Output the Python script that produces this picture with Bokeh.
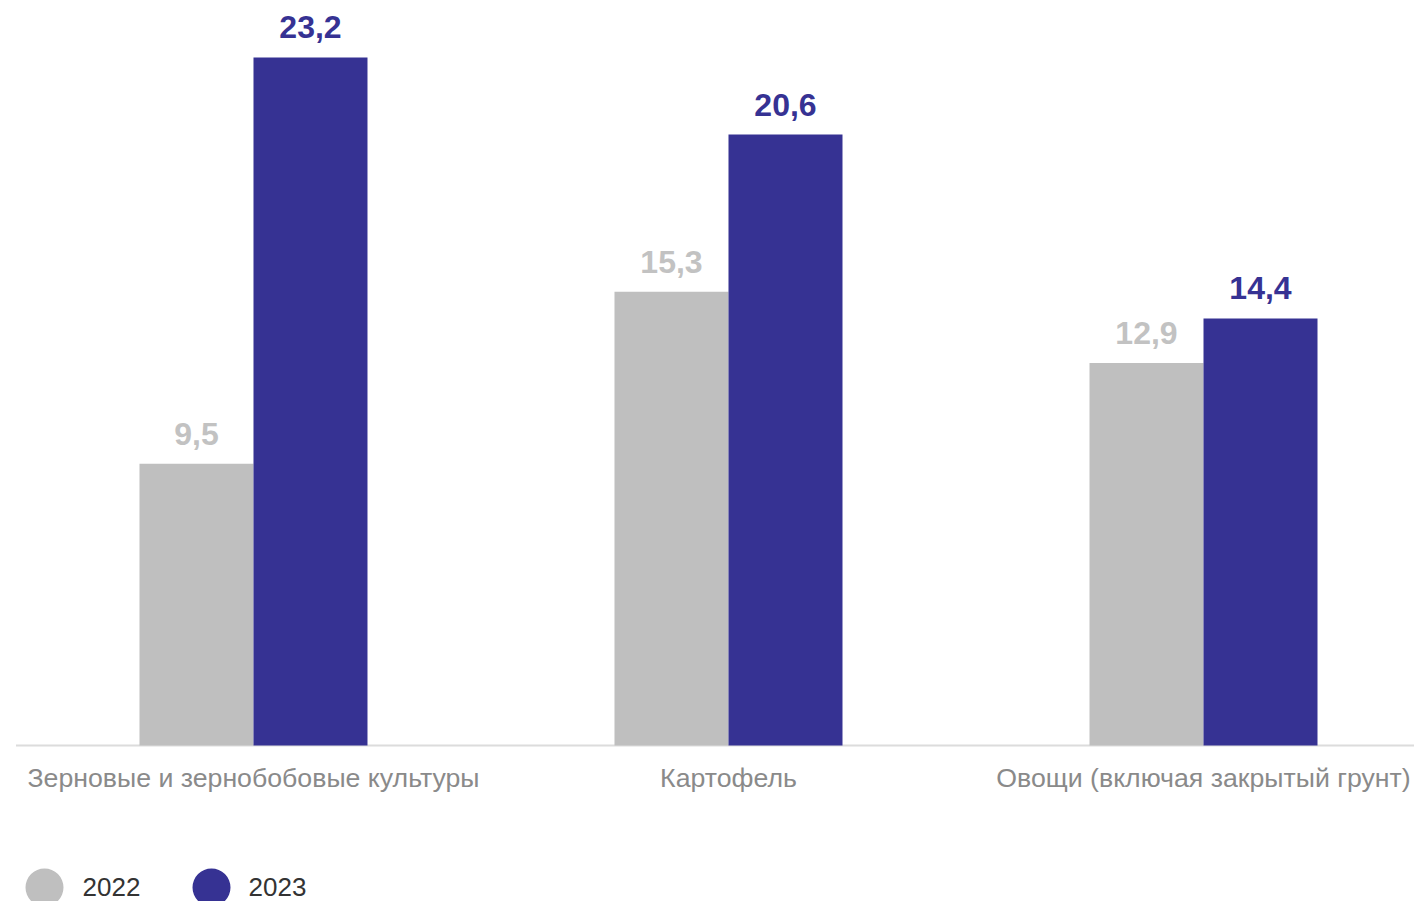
from bokeh.plotting import figure
from bokeh.models import Range1d, ColumnDataSource
from bokeh.transform import dodge
from bokeh.core.properties import value
from bokeh.embed import file_html
from bokeh.resources import INLINE

categories = ["Зерновые и зернобобовые культуры", "Картофель", "Овощи (включая закрытый грунт)"]
years = ["2022", "2023"]
values_2022 = [9.5, 15.3, 12.9]
values_2023 = [23.2, 20.6, 14.4]
colors = ["#bfbfbf", "#363293"]
label_colors = ["#c2c2c2", "#363293"]

FONT = "Liberation Sans"
W, H = 1414, 901
x = list(range(len(categories)))

X0, X1 = -0.5326, 2.4442
Y0, Y1 = -5.26, 25.12

src = ColumnDataSource(dict(
    x=x,
    zero=[0] * len(x),
    cat=categories,
    v2022=values_2022,
    v2023=values_2023,
    t2022=[f"{v:.1f}".replace(".", ",") for v in values_2022],
    t2023=[f"{v:.1f}".replace(".", ",") for v in values_2023],
))

p = figure(width=W, height=H, output_backend="svg", toolbar_location=None,
           x_range=Range1d(X0, X1), y_range=Range1d(Y0, Y1), min_border=0)
p.outline_line_color = None
p.background_fill_color = "white"
p.border_fill_color = "white"
p.grid.visible = False
p.axis.visible = False
p.extra_x_ranges = {"px": Range1d(0, W)}
p.extra_y_ranges = {"px": Range1d(H, 0)}

# baseline (category axis line)
p.segment(x0=[-0.5], x1=[X1], y0=[0], y1=[0], line_color="#dcdcdc", line_width=2)

bw = 0.24
for i, yr in enumerate(years):
    off = -bw / 2 if i == 0 else bw / 2
    p.vbar(x=dodge("x", off, range=p.x_range), top="v" + yr, width=bw, bottom=0,
           source=src, fill_color=colors[i], line_color=None)
    p.text(x=dodge("x", off, range=p.x_range), y="v" + yr, text="t" + yr, source=src,
           text_align="center", text_baseline="alphabetic", y_offset=-30,
           text_font=value(FONT), text_font_style="bold", text_font_size="32px",
           text_color=label_colors[i])

# category labels
p.text(x="x", y="zero", text="cat", source=src, text_align="center", text_baseline="middle",
       y_offset=32, text_font=value(FONT), text_font_size="26.7px", text_color="#8a8a8a")

# legend (pixel coordinates via extra ranges)
lsrc = ColumnDataSource(dict(
    cx=[44 + 167 * i for i in range(len(years))],
    tx=[82 + 166 * i for i in range(len(years))],
    cy=[887] * len(years),
    label=years,
    color=colors,
))
p.scatter(x="cx", y="cy", size=38, marker="circle", fill_color="color", line_color=None,
          source=lsrc, x_range_name="px", y_range_name="px")
p.text(x="tx", y="cy", text="label", source=lsrc, text_baseline="middle", text_align="left",
       text_font=value(FONT), text_font_size="26px", text_color="#333333", y_offset=-1,
       x_range_name="px", y_range_name="px")

open("out.html", "w").write(file_html(p, INLINE))
